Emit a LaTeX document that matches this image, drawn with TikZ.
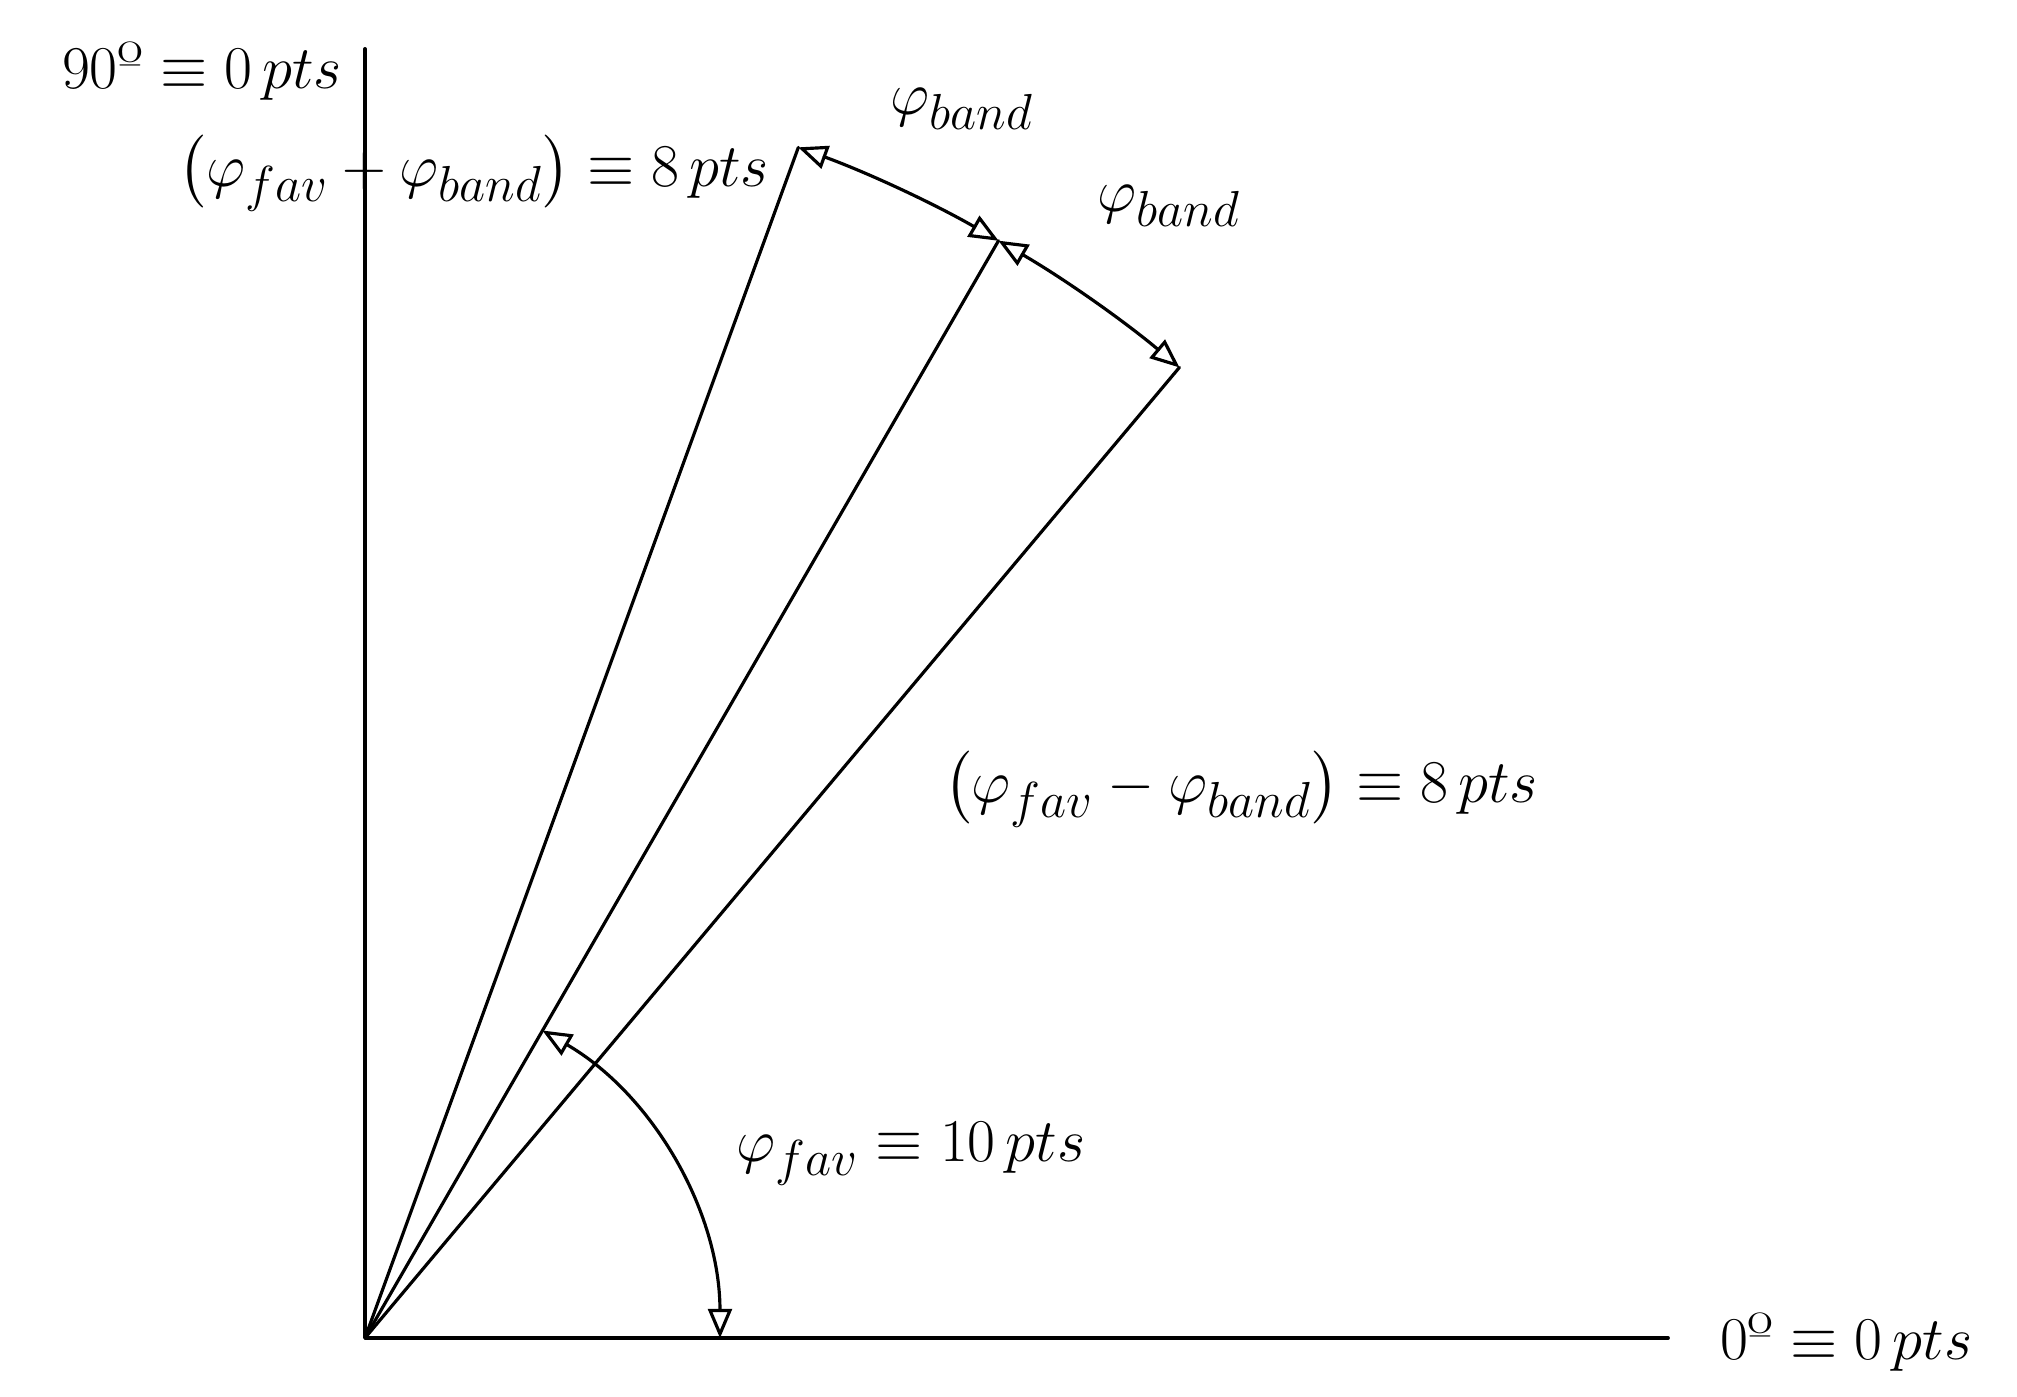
\documentclass[tikz,border=0pt]{standalone}
\usepackage{amsmath}
\usetikzlibrary{arrows}
\newcommand{\pfav}{\varphi_{fav}}
\newcommand{\pband}{\varphi_{band}}
\newcommand{\pts}{\,pts}
\begin{document}
\begin{tikzpicture}[line cap=round,line join=round,>=open triangle 45,x=0.01cm,y=0.01cm,line width=0.9pt,font=\fontsize{19}{23}\selectfont,inner sep=1pt]
\useasboundingbox (-365,-59) rectangle (1652,1338);
\coordinate (O) at (0,0);
\coordinate (Y) at (0,1289);
\coordinate (X) at (1303,0);
\draw[line width=1.1pt] (Y) -- (O) -- (X);
\foreach \a/\n in {70/A,60/B,50/C}
\draw (O) -- (\a:1267) coordinate (\n);
\draw[<->] (A) arc[start angle=70,end angle=60,radius=1267];
\draw[<->] (B) arc[start angle=60,end angle=50,radius=1267];
\draw[<->] (60:355) arc[start angle=60,end angle=0,radius=355];
\node[anchor=east] (ytop) at (-18,1267) {$90\text{º}\equiv 0\pts$};
\node[anchor=east] (upper) at (409,1165) {$\big(\pfav+\pband\big)\equiv 8\pts$};
\node (bandA) at (597,1229) {$\pband$};
\node (bandB) at (804,1132) {$\pband$};
\node (lower) at (876,549) {$\big(\pfav-\pband\big)\equiv 8\pts$};
\node (fav) at (546,184) {$\pfav\equiv 10\pts$};
\node[anchor=west] (xend) at (1350,-4) {$0\text{º}\equiv 0\pts$};
\end{tikzpicture}
\end{document}
